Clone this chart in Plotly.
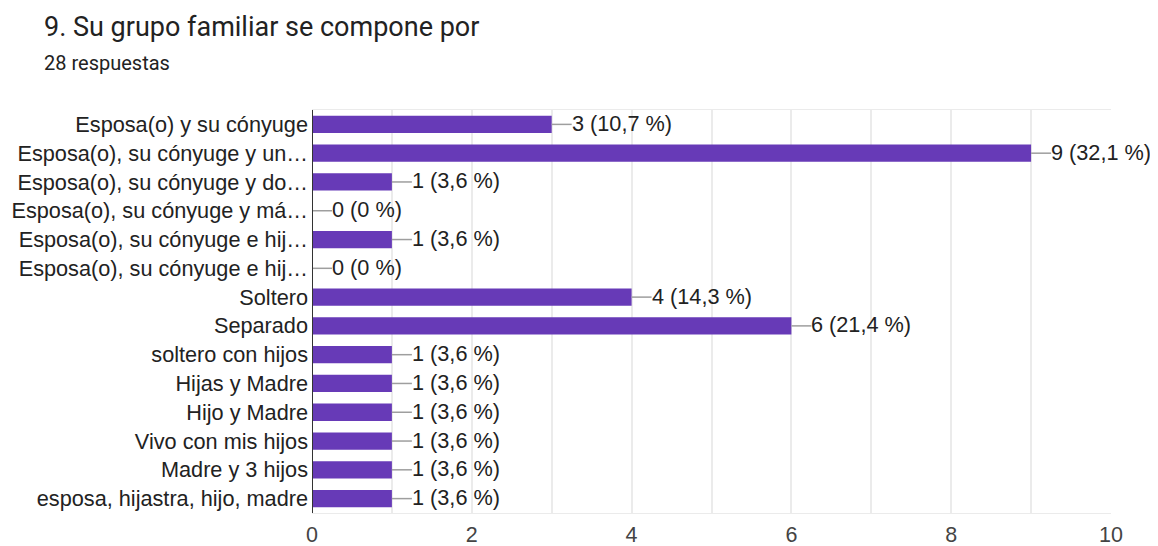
import plotly.graph_objects as go

categories = [
    "Esposa(o) y su cónyuge",
    "Esposa(o), su cónyuge y un…",
    "Esposa(o), su cónyuge y do…",
    "Esposa(o), su cónyuge y má…",
    "Esposa(o), su cónyuge e hij…",
    "Esposa(o), su cónyuge e hij…",
    "Soltero",
    "Separado",
    "soltero con hijos",
    "Hijas y Madre",
    "Hijo y Madre",
    "Vivo con mis hijos",
    "Madre y 3 hijos",
    "esposa, hijastra, hijo, madre",
]
counts = [3, 9, 1, 0, 1, 0, 4, 6, 1, 1, 1, 1, 1, 1]
percents = ["10,7", "32,1", "3,6", "0", "3,6", "0", "14,3", "21,4", "3,6", "3,6", "3,6", "3,6", "3,6", "3,6"]
x_ticks = [0, 2, 4, 6, 8, 10]

idx = list(range(len(categories)))
purple = "#673ab7"
txt = "#222222"
LF = "Liberation Sans"

# page body adds an 8px offset
OFF = 8
W, H = 1158 - OFF, 546 - OFF
L, T = 312 - OFF, 110 - OFF
PW, PH = 799, 403
R = W - L - PW
B = H - T - PH

fig = go.Figure()
fig.add_trace(go.Bar(
    x=counts, y=idx, orientation="h",
    marker=dict(color=purple, line=dict(width=0)),
    width=0.6, hoverinfo="skip",
))

for i, (c, p) in enumerate(zip(counts, percents)):
    fig.add_shape(type="line", xref="x", yref="y", xsizemode="pixel",
                  xanchor=c, x0=0, x1=20, y0=i, y1=i,
                  line=dict(color="#9e9e9e", width=1.5))
    fig.add_annotation(x=c, y=i, xref="x", yref="y", text=f"{c} ({p} %)",
                       showarrow=False, xanchor="left", xshift=18, yshift=1,
                       font=dict(family=LF, size=21.7, color=txt))

fig.add_annotation(text="9. Su grupo familiar se compone por", xref="paper", yref="paper",
                   x=(42 - 312) / PW, y=1, yshift=110 - 27, xanchor="left", yanchor="middle",
                   showarrow=False, font=dict(family="Roboto", size=27, color=txt))
fig.add_annotation(text="28 respuestas", xref="paper", yref="paper",
                   x=(42 - 312) / PW, y=1, yshift=110 - 63, xanchor="left", yanchor="middle",
                   showarrow=False, font=dict(family="Roboto", size=20, color=txt))

fig.update_layout(
    width=W, height=H,
    margin=dict(l=L, r=R, t=T, b=B, autoexpand=False),
    paper_bgcolor="white", plot_bgcolor="white",
    showlegend=False,
    font=dict(family=LF, color=txt),
    xaxis=dict(range=[0, 10], tickvals=x_ticks, ticktext=[str(v) for v in x_ticks],
               showgrid=True, gridcolor="#ebebeb", gridwidth=1.5,
               minor=dict(dtick=1, showgrid=True, gridcolor="#ebebeb", gridwidth=1.5),
               zeroline=False, showline=True, linecolor="#ebebeb", mirror=True,
               tickfont=dict(family=LF, size=21.5, color="#444444"), ticks="",
               ticklabelstandoff=2, automargin=False, fixedrange=True),
    yaxis=dict(range=[len(categories) - 0.5, -0.5], tickvals=idx, ticktext=categories,
               showgrid=False, zeroline=False, ticks="",
               tickfont=dict(family=LF, size=21.7, color=txt), ticklabelstandoff=3,
               showline=False, automargin=False, fixedrange=True),
)
fig.add_shape(type="line", xref="x", yref="paper", x0=0, x1=0, y0=0, y1=1,
              line=dict(color="#333333", width=2))

fig.write_html("out.html")
